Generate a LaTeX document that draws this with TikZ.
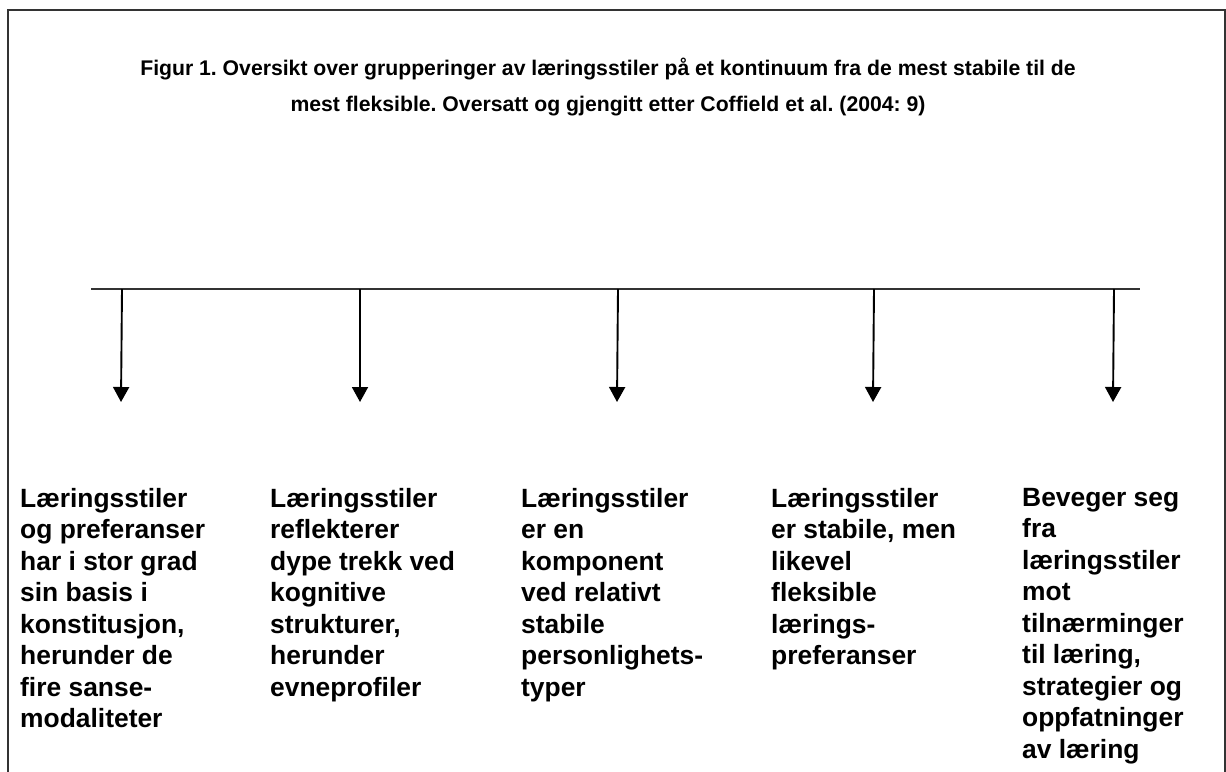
\documentclass[tikz,border=0pt]{standalone}
\usepackage{fontspec}
\setmainfont{Liberation Sans}
\frenchspacing
\usetikzlibrary{arrows.meta}
\begin{document}
\begin{tikzpicture}[x=1pt, y=-1pt,
  ramme/.style={draw=black!80, line width=1.4pt},
  tekst/.style={anchor=north west, inner sep=0pt, align=left, font=\bfseries\fontsize{26.4}{31.5}\selectfont},
  pil/.style={-{Triangle[length=15pt,width=16pt]}, line width=1.9pt}]
\useasboundingbox (0,0) rectangle (1226,771);
% Ramme (nederste kant utenfor bildet)
\draw[ramme] (8,790) -- (8,10) -- (1225,10) -- (1225,790);
% Tittel
\node[inner sep=0pt, align=center, anchor=north, font=\bfseries\fontsize{21.2}{36}\selectfont] (titel) at (608,58)
  {Figur 1. Oversikt over grupperinger av læringsstiler på et kontinuum fra de mest stabile til de\\
   mest fleksible. Oversatt og gjengitt etter Coffield et al. (2004: 9)};
% Kontinuum
\coordinate (a) at (91,289); \coordinate (b) at (1140,289);
\draw[ramme] (a) -- (b);
\coordinate (t1) at (122,289); \coordinate (h1) at (121,402);
\coordinate (t2) at (360,289); \coordinate (h2) at (360,402);
\coordinate (t3) at (618,289); \coordinate (h3) at (617,402);
\coordinate (t4) at (874,289); \coordinate (h4) at (873,402);
\coordinate (t5) at (1114,289); \coordinate (h5) at (1113,402);
\foreach \i in {1,...,5}{\draw[pil] (t\i) -- (h\i);}
% Grupper
\node[tekst] (c1) at (20,488) {Læringsstiler\\og preferanser\\har i stor grad\\sin basis i\\konstitusjon,\\herunder de\\fire sanse-\\modaliteter};
\node[tekst] (c2) at (270,488) {Læringsstiler\\reflekterer\\dype trekk ved\\kognitive\\strukturer,\\herunder\\evneprofiler};
\node[tekst] (c3) at (521,488) {Læringsstiler\\er en\\komponent\\ved relativt\\stabile\\personlighets-\\typer};
\node[tekst] (c4) at (771,488) {Læringsstiler\\er stabile, men\\likevel\\fleksible\\lærings-\\preferanser};
\node[tekst] (c5) at (1022,488) {Beveger seg\\fra\\læringsstiler\\mot\\tilnærminger\\til læring,\\strategier og\\oppfatninger\\av læring};
\end{tikzpicture}
\end{document}
